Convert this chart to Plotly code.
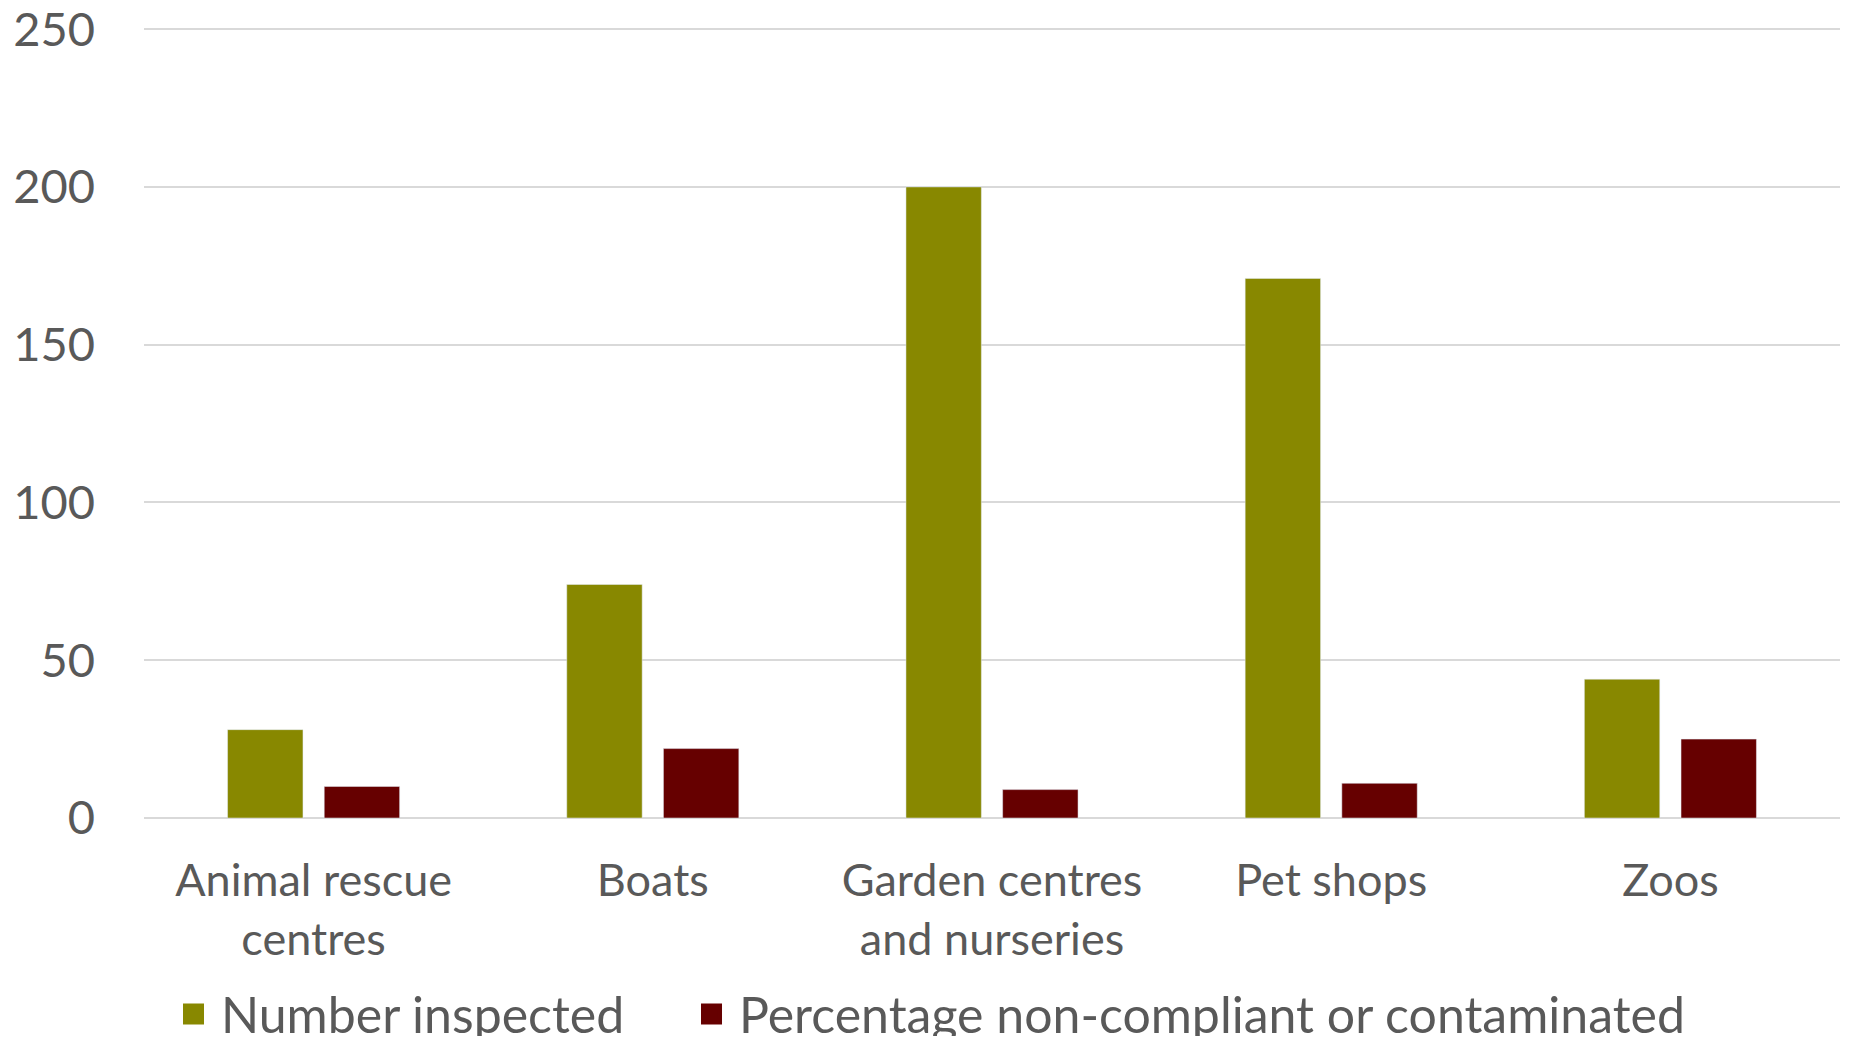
import plotly.graph_objects as go

categories = ["Animal rescue<br>centres", "Boats", "Garden centres<br>and nurseries", "Pet shops", "Zoos"]
number_inspected = [28, 74, 200, 171, 44]
pct_noncompliant = [10, 22, 9, 11, 25]
series_names = ["Number inspected", "Percentage non-compliant or contaminated"]
colors = ["#888800", "#660000"]
y_ticks = [0, 50, 100, 150, 200, 250]

FONT = "Lato"
TXT = "#595959"

fig = go.Figure()
for name, vals, col in zip(series_names, [number_inspected, pct_noncompliant], colors):
    fig.add_trace(go.Bar(x=categories, y=vals, name=name, marker_color=col,
                         showlegend=False, legendgroup=name))
# legend entries (larger square swatches), one legend box each
for name, col, lg in zip(series_names, colors, ["legend", "legend2"]):
    fig.add_trace(go.Scatter(x=[None], y=[None], mode="markers", name=name, legendgroup=name,
                             legend=lg,
                             marker=dict(symbol="square", size=16, color=col,
                                         line=dict(color=col, width=5))))

legend_common = dict(orientation="h", xref="container", yref="container",
                     xanchor="left", y=0.0215, yanchor="middle",
                     font=dict(size=50, color=TXT), itemwidth=45, bgcolor="rgba(0,0,0,0)")

fig.update_layout(
    width=1833, height=1028,
    margin=dict(l=136, r=1, t=18, b=218, autoexpand=False),
    plot_bgcolor="white", paper_bgcolor="white",
    barmode="group", bargap=0.43, bargroupgap=0.22,
    font=dict(family=FONT, color=TXT, size=46),
    legend=dict(x=0.0862, **legend_common),
    legend2=dict(x=0.3688, **legend_common),
)
fig.update_xaxes(showgrid=False, showline=False, ticks="", tickfont=dict(size=45, color=TXT),
                 ticklabelstandoff=32, automargin=False)
fig.update_yaxes(range=[0, 251], tickvals=y_ticks, showgrid=True, gridcolor="#d9d9d9", gridwidth=2,
                 zeroline=True, zerolinecolor="#d9d9d9", zerolinewidth=2, showline=False, ticks="",
                 tickfont=dict(size=47, color=TXT), ticklabelstandoff=48, automargin=False,
                 ticklabeloverflow="allow")

fig.write_html("out.html")
